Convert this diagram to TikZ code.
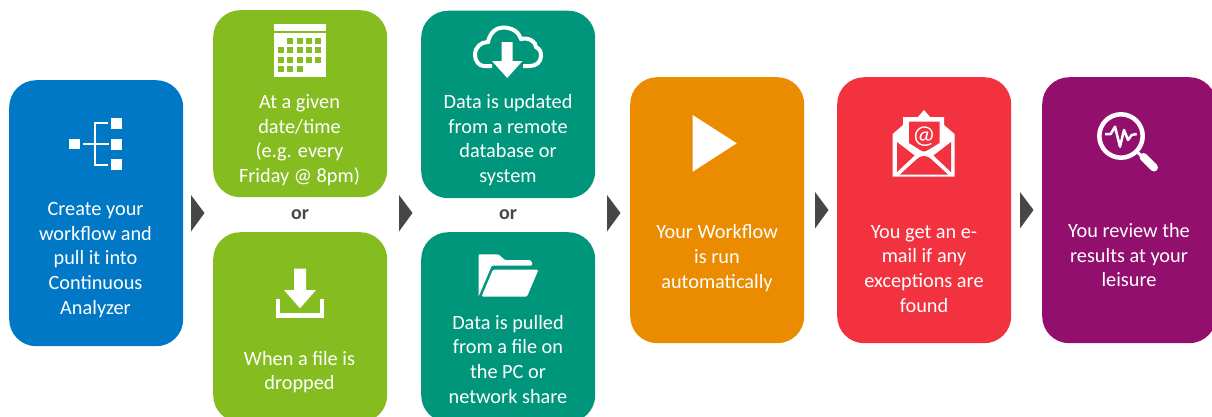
\documentclass[tikz,border=0pt]{standalone}
\usepackage{fontspec}
\setmainfont{Carlito}
\definecolor{cblue}{HTML}{0078C5}
\definecolor{cgreen}{HTML}{85BC20}
\definecolor{cteal}{HTML}{00967C}
\definecolor{corange}{HTML}{EA8B00}
\definecolor{cred}{HTML}{F2323F}
\definecolor{cpurple}{HTML}{930F6E}
\definecolor{cdark}{HTML}{474747}
\tikzset{
  card/.style={rounded corners=27pt,inner sep=0pt,minimum width=174pt,anchor=north west,draw=none},
  cardtext/.style={text=white,align=center,font=\fontsize{20.3}{24.6}\selectfont,inner sep=0pt},
  ortext/.style={text=cdark,font=\fontsize{20}{23}\selectfont\bfseries,inner sep=0pt},
  chevron/.style={fill=cdark,draw=none},
  icon/.style={fill=white,draw=none},
  iconline/.style={draw=white,fill=none},
}
\begin{document}
\begin{tikzpicture}[x=1pt,y=-1pt]
\useasboundingbox (0,0) rectangle (1212,416);
\clip (0,0) rectangle (1212,416);
% cards
\node[card,fill=cblue,minimum height=266pt] (c1) at (9,80) {};
\node[card,fill=cgreen,minimum height=187pt] (g1) at (213,10) {};
\node[card,fill=cgreen,minimum height=190pt] (g2) at (213,232) {};
\node[card,fill=cteal,minimum height=187.5pt] (t1) at (421,10.5) {};
\node[card,fill=cteal,minimum height=190pt] (t2) at (421,232) {};
\node[card,fill=corange,minimum height=266pt] (c3) at (630,77) {};
\node[card,fill=cred,minimum height=266pt] (c4) at (837,77) {};
\node[card,fill=cpurple,minimum height=266pt] (c5) at (1042,77) {};
% text
\node[cardtext] (tx1) at (95.5,260) {Create your\\workflow and\\pull it into\\Continuous\\Analyzer};
\node[cardtext] (tx2) at (299.5,140) {At a given\\date/time\\(e.g. every\\Friday @ 8pm)};
\node[cardtext] (tx3) at (299.5,372) {When a file is\\dropped};
\node[cardtext] (tx4) at (508,140) {Data is updated\\from a remote\\database or\\system};
\node[cardtext] (tx5) at (508,359.3) {Data is pulled\\from a file on\\the PC or\\network share};
\node[cardtext] (tx6) at (717,258) {Your Workflow\\is run\\automatically};
\node[cardtext] (tx7) at (924,268.7) {You get an e-\\mail if any\\exceptions are\\found};
\node[cardtext] (tx8) at (1129,255.3) {You review the\\results at your\\leisure};
\node[ortext] (or1) at (300,214.5) {or};
\node[ortext] (or2) at (508,215) {or};
% chevrons
\foreach \x/\y in {191/195,399/195,607/195,815/192,1020/192}{
  \fill[chevron] (\x,\y) -- (\x+13.5,\y+18) -- (\x,\y+36.5) -- cycle;
}
% workflow icon
\fill[icon] (69,139) rectangle (80,149);
\foreach \y in {118,139,159}{\fill[icon] (111,\y) rectangle (122,\y+11);}
\draw[iconline,line width=2pt] (83,144) -- (109,144) (108,123) -- (95,123) -- (95,165) -- (108,165);
% calendar
\fill[icon] (274,24) rectangle (326,30.7);
\fill[icon] (274,33.3) rectangle (326,76.7);
\foreach \r/\s/\n in {0/1/4,1/0/5,2/0/5,3/0/3}{
  \foreach \k in {1,...,\n}{
    \pgfmathsetmacro{\cx}{278+9.3*(\s+\k-1)}
    \pgfmathsetmacro{\cy}{38+9.3*\r}
    \fill[cgreen] (\cx,\cy) rectangle (\cx+6,\cy+6);
  }
}
% download
\fill[icon] (294,268.7) -- (306,268.7) -- (306,290) -- (316,290) -- (300,308.3) -- (284,290) -- (294,290) -- cycle;
\draw[iconline,line width=4.5pt] (278.2,299.3) -- (278.2,315.5) -- (321.8,315.5) -- (321.8,299.3);
% cloud
\draw[iconline,line width=4pt] (492,66) -- (484,66) .. controls (479,66) and (475,61) .. (475,55)
  .. controls (475,47) and (481,42) .. (488,42)
  .. controls (490,32) and (497,27.5) .. (503,27.5)
  .. controls (512,27.5) and (519,32) .. (521,39)
  .. controls (529,37) and (536,42) .. (536,47)
  .. controls (540,49) and (541,52) .. (541,56)
  .. controls (541,62) and (536,66) .. (530,66) -- (523,66);
\fill[icon] (501.7,42) -- (512.7,42) -- (512.7,61) -- (522.5,61) -- (507.2,78) -- (492,61) -- (501.7,61) -- cycle;
% folder
\fill[icon,rounded corners=1pt] (478.5,254.3) -- (498.3,254.3) -- (505,260) -- (530,260) -- (532,262) -- (532,265.7) -- (491.7,265.7) -- (478.5,296.7) -- cycle;
\fill[icon,rounded corners=1.5pt] (493,269.5) -- (538.5,269.5) -- (527,296.7) -- (481.5,296.7) -- cycle;
% play
\fill[icon] (692.7,115) -- (736.7,143.3) -- (692.7,171.7) -- cycle;
% envelope
\fill[icon] (892.7,176.7) -- (892.7,134) -- (903,125) -- (903,117) -- (918,117) -- (924,110) -- (930,117) -- (944,117) -- (944,125) -- (954.5,134) -- (954.5,176.7) -- cycle;
\fill[cred] (909,121.5) -- (939.5,121.5) -- (939.5,143) -- (927,150.5) -- (924,151.5) -- (921,150.5) -- (909,143) -- cycle;
\fill[cred] (897,142) -- (914.5,155.5) -- (897,172) -- cycle;
\fill[cred] (951,142) -- (933.5,155.5) -- (951,172) -- cycle;
\fill[cred] (900,174.5) -- (917,159) .. controls (921,155) and (927,155) .. (931,159) -- (948,174.5) -- cycle;
\node[text=white,inner sep=0pt,font=\fontsize{26}{26}\selectfont] (at1) at (924,137) {@};
% magnifier
\draw[iconline,line width=4.5pt] (1121,136) circle (21.7);
\draw[iconline,line width=3pt] (1137,152) -- (1143,157);
\draw[iconline,line width=8pt,line cap=round] (1143.5,157) -- (1154,167.5);
\draw[iconline,line width=2.5pt,line join=round] (1105,134) -- (1110.7,134) -- (1115,126.7) -- (1120,146.7) -- (1124,130) -- (1128,140) -- (1131.7,135) -- (1136.7,134);
\end{tikzpicture}
\end{document}
